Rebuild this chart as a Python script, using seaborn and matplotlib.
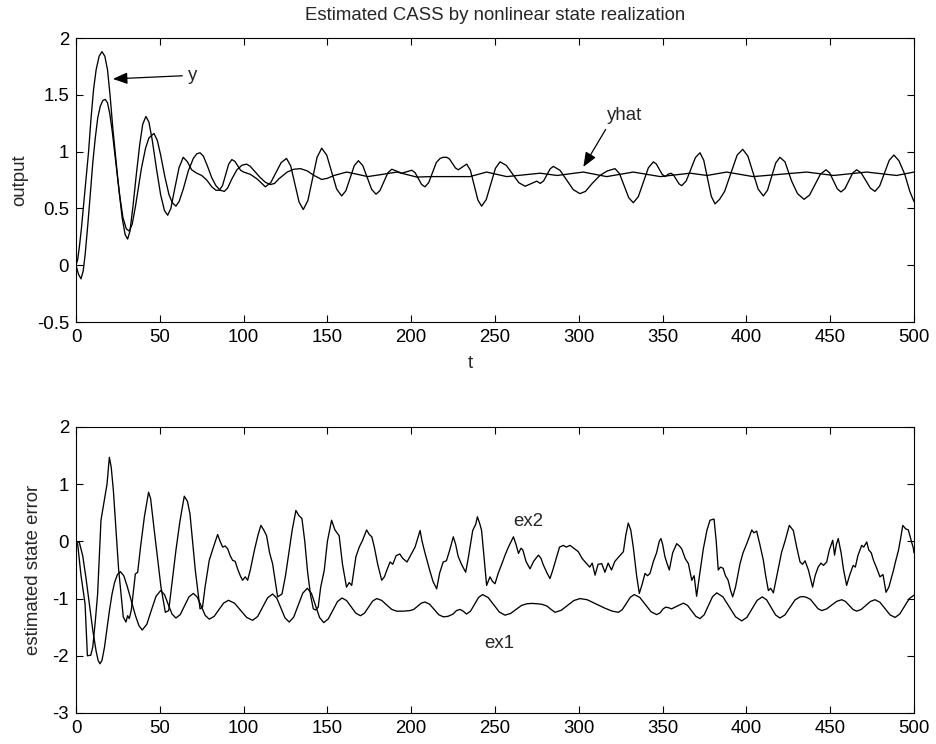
import matplotlib
matplotlib.use("Agg")
import matplotlib.pyplot as plt
import seaborn as sns
import pandas as pd

# ---------------- data ----------------
title = "Estimated CASS by nonlinear state realization"
x_ticks = [0, 50, 100, 150, 200, 250, 300, 350, 400, 450, 500]
top_yticks = [-0.5, 0, 0.5, 1, 1.5, 2]
top_yticklabels = ["-0.5", "0", "0.5", "1", "1.5", "2"]
bot_yticks = [-3, -2, -1, 0, 1, 2]
bot_yticklabels = ["-3", "-2", "-1", "0", "1", "2"]

y_points = [
    (0, 0), (1, 0.05), (2, 0.16), (3.2, 0.32), (4.4, 0.51), (6, 0.76), (7.5, 1.0), (9, 1.3),
    (10.5, 1.55), (12, 1.72), (13.8, 1.84), (15.5, 1.88), (17.2, 1.84), (18.8, 1.72), (20.3, 1.5),
    (22, 1.2), (25, 0.75), (27.5, 0.42), (29.3, 0.27), (30.8, 0.23), (32.2, 0.3), (34, 0.52),
    (36, 0.8), (38, 1.06), (39.8, 1.24), (41.7, 1.31), (43.5, 1.26), (45.5, 1.1), (48, 0.85),
    (50.5, 0.62), (52.8, 0.48), (54.7, 0.44), (56.6, 0.5), (59, 0.68), (61.5, 0.86), (64, 0.95),
    (66.5, 0.91), (69, 0.84), (72, 0.81), (75, 0.79), (78, 0.75), (81, 0.69), (83.5, 0.66),
    (85.5, 0.66), (87.4, 0.70), (91.1, 0.89), (93, 0.93), (94.8, 0.914), (98.2, 0.836), (100, 0.82),
    (104, 0.80), (108, 0.76), (113, 0.69), (116.2, 0.727), (122.4, 0.903), (125.6, 0.94),
    (128.1, 0.874), (133.1, 0.556), (135.6, 0.49), (138.35, 0.569), (143.85, 0.951), (146.6, 1.03),
    (149.6, 0.969), (155.5, 0.671), (158.5, 0.61), (161, 0.655), (166, 0.875), (168.5, 0.92),
    (171.1, 0.877), (176.4, 0.668), (179, 0.625), (181.35, 0.657), (186.05, 0.813), (188.4, 0.845),
    (191.4, 0.827), (194.4, 0.81), (197.3, 0.823), (200.3, 0.836), (202.3, 0.815), (206.2, 0.711),
    (208.2, 0.69), (210.45, 0.727), (214.95, 0.903), (217.2, 0.94), (219.2, 0.95), (221.2, 0.95),
    (222.9, 0.934), (226.4, 0.856), (228.1, 0.84), (230.6, 0.865), (233.1, 0.89), (235.3, 0.836),
    (239.8, 0.574), (242, 0.52), (244.75, 0.577), (250.25, 0.853), (253, 0.91), (256.75, 0.879),
    (264.25, 0.726), (268, 0.695), (271.5, 0.718), (274.9, 0.74), (277, 0.72), (279, 0.742),
    (282.9, 0.848), (284.8, 0.87), (288.8, 0.835), (296.7, 0.665), (300.7, 0.63), (304, 0.65),
    (308, 0.72), (312.6, 0.79), (317, 0.83), (321.6, 0.85), (324.3, 0.806), (329.8, 0.594),
    (332.5, 0.55), (335.5, 0.603), (341.5, 0.857), (344.5, 0.91), (346.25, 0.891), (349.75, 0.80),
    (351.5, 0.78), (353.2, 0.80), (354.9, 0.81), (356.5, 0.794), (359.8, 0.716), (361.4, 0.70),
    (364.1, 0.742), (369.6, 0.948), (372.3, 0.99), (374.55, 0.924), (379.05, 0.606), (381.3, 0.54),
    (384, 0.58), (387, 0.65), (391, 0.82), (394.5, 0.97), (397.8, 1.02), (400.9, 0.96), (407, 0.67),
    (410.1, 0.61), (412.6, 0.66), (417.5, 0.90), (420, 0.95), (423, 0.91), (427, 0.74), (430.5, 0.63),
    (434.4, 0.58), (437.7, 0.618), (444.2, 0.802), (447.5, 0.84), (449.7, 0.812), (454.2, 0.673),
    (456.4, 0.645), (458.75, 0.673), (463.45, 0.812), (465.8, 0.84), (468.5, 0.812), (474, 0.678),
    (476.7, 0.65), (479.5, 0.697), (485.2, 0.923), (488, 0.97), (491, 0.92), (494.5, 0.80),
    (497.5, 0.65), (500, 0.56),
]

yhat_points = [
    (0, 0), (1.5, -0.08), (3, -0.12), (4.3, -0.05), (5.5, 0.1), (7, 0.35), (8.5, 0.62), (10, 0.9),
    (11.5, 1.12), (13, 1.3), (14.5, 1.4), (16, 1.45), (17.4, 1.46), (18.8, 1.43), (20.2, 1.33),
    (21.7, 1.17), (23, 1.0), (26, 0.62), (28, 0.42), (30, 0.32), (31.8, 0.30), (33.5, 0.36),
    (35.5, 0.52), (39, 0.85), (41.5, 1.03), (43.5, 1.12), (46.5, 1.16), (48.5, 1.1), (50.5, 0.97),
    (53, 0.78), (55.5, 0.62), (57.5, 0.55), (59.6, 0.52), (61.5, 0.56), (64, 0.67), (67, 0.83),
    (70, 0.94), (72, 0.98), (74, 0.99), (76, 0.96), (78.5, 0.87), (81, 0.77), (83.5, 0.7), (86, 0.66),
    (88.5, 0.65), (90.5, 0.68), (93, 0.76), (96, 0.84), (99, 0.88), (101.8, 0.89), (104, 0.87),
    (107, 0.82), (110, 0.77), (113, 0.73), (116, 0.71), (118.5, 0.72), (121, 0.76), (126, 0.82),
    (130, 0.845), (134, 0.85), (138, 0.83), (142, 0.79), (146.6, 0.755), (150, 0.765), (154, 0.79),
    (161.5, 0.82), (168, 0.8), (174, 0.78), (183, 0.8), (191.5, 0.82), (203.3, 0.776), (212, 0.78),
    (221, 0.78), (235, 0.78), (245, 0.82), (257, 0.78), (267, 0.795), (277, 0.81), (287, 0.79),
    (302.7, 0.82), (316.6, 0.78), (332.5, 0.82), (348.6, 0.78), (366.5, 0.81), (376.5, 0.79),
    (388.2, 0.82), (404, 0.78), (420, 0.8), (436, 0.82), (452, 0.79), (471.8, 0.82), (489.6, 0.79),
    (500, 0.82),
]

ex1_points = [
    (0, 0), (2, -0.02), (4, -0.25), (6, -0.65), (8, -1.1), (10, -1.55), (12, -1.92), (13.2, -2.08),
    (14.3, -2.14), (15.5, -2.08), (17, -1.85), (18.5, -1.52), (20, -1.2), (21.5, -0.92), (23, -0.72),
    (24.7, -0.58), (26.5, -0.53), (28.5, -0.60), (30.5, -0.78), (33, -1.04), (35.5, -1.3),
    (37.5, -1.47), (39.5, -1.55), (42.25, -1.45), (45, -1.2), (47.75, -0.96), (50.5, -0.86),
    (52.8, -0.93), (55, -1.1), (57.3, -1.27), (59.6, -1.34), (62.2, -1.28), (64.8, -1.125),
    (67.4, -0.97), (70, -0.91), (72.4, -0.976), (74.75, -1.135), (77.1, -1.294), (79.5, -1.36),
    (82.4, -1.312), (85.25, -1.195), (88.1, -1.078), (91, -1.03), (94.6, -1.081), (98.2, -1.205),
    (101.8, -1.329), (105.4, -1.38), (108.4, -1.313), (111.35, -1.15), (114.3, -0.987),
    (117.3, -0.92), (119.8, -0.992), (122.25, -1.165), (124.7, -1.338), (127.2, -1.41),
    (129.9, -1.324), (132.6, -1.115), (135.3, -0.906), (138, -0.82), (140.45, -0.908),
    (142.9, -1.12), (145.35, -1.332), (147.8, -1.42), (150.5, -1.357), (153.25, -1.205),
    (156, -1.053), (158.7, -0.99), (161.45, -1.035), (164.2, -1.145), (166.95, -1.255),
    (169.7, -1.3), (172.1, -1.256), (174.55, -1.15), (177, -1.044), (179.4, -1.0), (182.4, -1.032),
    (185.35, -1.11), (188.3, -1.188), (191.3, -1.22), (195.3, -1.22), (199.3, -1.21), (201.5, -1.19),
    (203.75, -1.135), (206, -1.08), (208.2, -1.06), (210.95, -1.098), (213.7, -1.19),
    (216.45, -1.282), (219.2, -1.32), (222, -1.31), (225, -1.27), (227, -1.21), (229.1, -1.19),
    (231, -1.22), (233, -1.27), (235.4, -1.22), (237.8, -1.1), (240.2, -0.98), (242.6, -0.93),
    (245.95, -0.983), (249.3, -1.11), (252.65, -1.237), (256, -1.29), (259.3, -1.26),
    (262.55, -1.19), (265.8, -1.12), (269.1, -1.09), (272, -1.085), (275, -1.09), (278, -1.1),
    (281, -1.13), (283.5, -1.19), (285.8, -1.24), (289.5, -1.205), (293.25, -1.12), (297, -1.035),
    (300.7, -1.0), (305, -1.02), (310, -1.09), (315.7, -1.17), (320, -1.22), (323.6, -1.24),
    (325.9, -1.195), (328.35, -1.085), (330.8, -0.975), (333.1, -0.93), (336.4, -0.98),
    (339.75, -1.105), (343.1, -1.23), (346.4, -1.28), (348.5, -1.25), (350.3, -1.18),
    (351.9, -1.15), (353.6, -1.16), (355.3, -1.18), (358.9, -1.13), (362.4, -1.08), (364.9, -1.12),
    (367.35, -1.215), (369.8, -1.31), (372.3, -1.35), (374.8, -1.284), (377.3, -1.125),
    (379.8, -0.966), (382.3, -0.9), (386, -0.97), (389.75, -1.145), (393.5, -1.318), (397.2, -1.39),
    (400.3, -1.329), (403.35, -1.18), (406.4, -1.031), (409.5, -0.97), (412.1, -1.024),
    (414.75, -1.155), (417.4, -1.286), (420, -1.34), (423, -1.286), (426, -1.155), (429, -1.024),
    (432, -0.97), (434, -0.965), (436, -0.98), (438.2, -1.014), (440.45, -1.095), (442.7, -1.176),
    (444.9, -1.21), (447.9, -1.18), (450.9, -1.115), (453.9, -1.048), (456.9, -1.02), (459.1, -1.05),
    (461.35, -1.12), (463.6, -1.19), (465.8, -1.22), (468.5, -1.19), (471.25, -1.12), (474, -1.05),
    (476.7, -1.02), (479.7, -1.065), (482.7, -1.175), (485.7, -1.285), (488.7, -1.33),
    (491.5, -1.27), (494.35, -1.135), (497.2, -1.0), (500, -0.94),
]

ex2_points = [
    (0, 0), (1, -0.05), (3, -0.6), (5.4, -1.09), (6.8, -2.0), (8.8, -1.99), (10, -1.85), (11.5, -1.4),
    (12.9, -0.92), (14.9, 0.37), (16.9, 0.72), (18.5, 1.0), (19.9, 1.47), (21, 1.3), (22.3, 0.89),
    (25.4, -0.48), (27, -0.95), (28.2, -1.32), (29.8, -1.41), (30.8, -1.3), (31.8, -1.35), (33, -1.2),
    (35.4, -0.57), (36.8, -0.54), (38.5, -0.1), (40.8, 0.43), (43.3, 0.86), (44.5, 0.75), (46.7, 0.19),
    (50.7, -0.8), (53.3, -1.24), (55.3, -1.21), (57, -0.8), (59.6, -0.16), (62, 0.35), (64.6, 0.79),
    (66.5, 0.7), (68, 0.48), (71.2, -0.51), (74, -1.18), (75.5, -1.15), (77, -0.8), (79.5, -0.33),
    (82, -0.1), (84.5, 0.12), (86, 0.0), (87.5, -0.1), (89, -0.08), (90.5, -0.13), (92, -0.25),
    (93.4, -0.33), (95, -0.35), (96.4, -0.48), (98, -0.6), (99.4, -0.68), (101, -0.62), (102.4, -0.68),
    (104, -0.5), (106.4, -0.16), (108.5, 0.1), (110.3, 0.28), (112, 0.2), (113.7, 0.1), (115.5, -0.2),
    (117.3, -0.39), (120.3, -0.97), (122.9, -0.92), (125, -0.6), (127.2, -0.16), (129, 0.2),
    (131.2, 0.54), (133, 0.45), (134.8, 0.40), (136.5, 0.0), (138.2, -0.54), (140, -0.95),
    (141.6, -1.18), (143, -1.2), (144.5, -1.15), (146, -0.8), (148.1, -0.51), (150, 0.0), (152.5, 0.37),
    (154.5, 0.2), (157, 0.1), (159, -0.4), (161.4, -0.80), (163, -0.72), (164.5, -0.77), (167, -0.27),
    (169, -0.1), (171, 0.02), (173.4, 0.2), (175, 0.12), (176.5, 0.08), (178, -0.1), (180, -0.4),
    (182.4, -0.68), (184, -0.62), (185.5, -0.5), (187.4, -0.36), (189, -0.4), (191, -0.25),
    (193.2, -0.22), (195, -0.3), (197.5, -0.36), (199.5, -0.25), (202.3, -0.1), (205.3, 0.19),
    (206.5, 0.0), (208.2, -0.2), (211, -0.5), (213, -0.7), (215.2, -0.83), (217, -0.55), (219.1, -0.36),
    (221, -0.34), (223, -0.15), (225.1, 0.08), (226.5, -0.05), (228, -0.26), (230, -0.4), (232.5, -0.54),
    (234, -0.3), (236.7, 0.19), (238.5, 0.3), (239.5, 0.43), (241, 0.3), (242, 0.19), (243.5, -0.3),
    (245, -0.77), (247, -0.62), (248.5, -0.7), (250, -0.74), (252, -0.55), (254, -0.4), (256, -0.24),
    (258, -0.1), (261, 0.08), (262.5, -0.05), (264, -0.21), (265.5, -0.12), (266.6, -0.15),
    (268.5, -0.35), (270.9, -0.48), (273, -0.35), (275.9, -0.24), (277.5, -0.3), (278.8, -0.41),
    (281, -0.55), (282.8, -0.65), (284.5, -0.5), (286.8, -0.27), (288.5, -0.1), (290.8, -0.07),
    (292.5, -0.1), (294.8, -0.07), (297, -0.12), (299.7, -0.18), (302, -0.3), (304.7, -0.39),
    (306.5, -0.45), (308, -0.38), (309.7, -0.59), (311.5, -0.4), (313.7, -0.39), (315.6, -0.54),
    (317.5, -0.38), (319.5, -0.5), (321.5, -0.35), (323.6, -0.28), (326.6, -0.18), (328, 0.1),
    (329.5, 0.32), (331, 0.2), (332.5, -0.1), (334.5, -0.6), (336.1, -0.91), (337.8, -0.75),
    (339.5, -0.56), (341, -0.6), (342.5, -0.56), (344.5, -0.35), (346.4, -0.2), (348, 0.0), (349, 0.05),
    (350, -0.05), (351.4, -0.27), (352.8, -0.4), (354, -0.5), (356, -0.2), (358.4, -0.04), (360, -0.08),
    (361.4, -0.13), (363.5, -0.3), (365.4, -0.39), (366.5, -0.55), (367.4, -0.68), (368.8, -0.6),
    (370.3, -0.96), (372, -0.6), (374.3, -0.13), (376.5, 0.2), (378.3, 0.37), (379.5, 0.38),
    (380.7, 0.39), (382, 0.0), (383.2, -0.5), (384.5, -0.45), (386.1, -0.47), (387.5, -0.6),
    (389.1, -0.68), (390.5, -0.85), (391.8, -0.97), (393.5, -0.8), (396.2, -0.39), (398, -0.2),
    (400.2, -0.04), (402, 0.1), (403.2, 0.2), (404.5, 0.15), (406.1, 0.18), (408, -0.05), (410.1, -0.33),
    (411.5, -0.6), (413.1, -0.86), (414.5, -0.82), (416.1, -0.9), (418.5, -0.55), (421, -0.19),
    (423, 0.0), (425.6, 0.28), (428, 0.19), (430, -0.1), (432, -0.36), (433.5, -0.4), (435, -0.34),
    (437, -0.5), (439.5, -0.8), (441, -0.6), (442.8, -0.45), (444.5, -0.38), (446, -0.42),
    (447.9, -0.36), (449.5, -0.15), (451.5, 0.02), (452.6, -0.24), (453.7, -0.05), (454.8, 0.05),
    (456.5, -0.2), (458, -0.5), (459.8, -0.77), (461.5, -0.6), (463.7, -0.42), (465, -0.45),
    (466.5, -0.25), (468.8, -0.07), (470, -0.1), (471.8, -0.01), (473, -0.15), (474.5, -0.2),
    (475.8, -0.33), (477.5, -0.45), (479.7, -0.62), (481.5, -0.58), (483.3, -0.89), (485, -0.8),
    (487.7, -0.51), (489, -0.35), (490.7, -0.16), (492, 0.05), (493.3, 0.28), (495, 0.22),
    (496.6, 0.2), (498, 0.05), (499.6, -0.12), (500, -0.2),
]

# ---------------- style ----------------
sns.set_style("ticks")
plt.rcParams["font.family"] = ["Liberation Sans", "DejaVu Sans"]
plt.rcParams["font.size"] = 13.4
plt.rcParams["axes.linewidth"] = 0.8

fig = plt.figure(figsize=(9.36, 7.44), dpi=100)
ax1 = fig.add_axes([0.0812, 0.5672, 0.8953, 0.3817])
ax2 = fig.add_axes([0.0812, 0.0417, 0.8953, 0.3844])


def draw(ax, pts):
    df = pd.DataFrame(pts, columns=["t", "v"])
    sns.lineplot(data=df, x="t", y="v", ax=ax, color="black", linewidth=0.95,
                 estimator=None, sort=False)


draw(ax1, y_points)
draw(ax1, yhat_points)
draw(ax2, ex1_points)
draw(ax2, ex2_points)

for ax in (ax1, ax2):
    ax.set_xlim(0, 500)
    ax.set_xticks(x_ticks)
    ax.set_xticklabels([str(v) for v in x_ticks])
    ax.tick_params(direction="in", top=True, right=True, length=5, width=0.8,
                   labelsize=13.4, pad=5, colors="black")
    for s in ax.spines.values():
        s.set_visible(True)
        s.set_color("black")

ax1.set_ylim(-0.5, 2)
ax1.set_yticks(top_yticks)
ax1.set_yticklabels(top_yticklabels)
ax2.set_ylim(-3, 2)
ax2.set_yticks(bot_yticks)
ax2.set_yticklabels(bot_yticklabels)

ax1.set_title(title, fontsize=13.4, pad=13)
ax1.set_xlabel("t", fontsize=13.4)
ax1.xaxis.set_label_coords(0.47, -0.115)
ax1.set_ylabel("output", fontsize=13.4)
ax1.yaxis.set_label_coords(-0.057, 0.5)
ax2.set_xlabel("")
ax2.set_ylabel("estimated state error", fontsize=13.4)
ax2.yaxis.set_label_coords(-0.041, 0.5)

arrow = dict(arrowstyle="-|>,head_length=0.55,head_width=0.22", color="black",
             lw=0.9, shrinkA=2, shrinkB=0, mutation_scale=16)
ax1.annotate("y", xy=(22, 1.64), xytext=(67, 1.67), ha="left", va="center",
             fontsize=13.4, arrowprops=dict(arrow, relpos=(0, 0.5)))
ax1.annotate("yhat", xy=(302.7, 0.865), xytext=(317, 1.32), ha="left", va="center",
             fontsize=13.4, arrowprops=dict(arrow, relpos=(0.05, 0.0)))
ax2.text(261, 0.35, "ex2", ha="left", va="center", fontsize=13.4)
ax2.text(243.5, -1.78, "ex1", ha="left", va="center", fontsize=13.4)

fig.savefig("out.png", dpi=100)
